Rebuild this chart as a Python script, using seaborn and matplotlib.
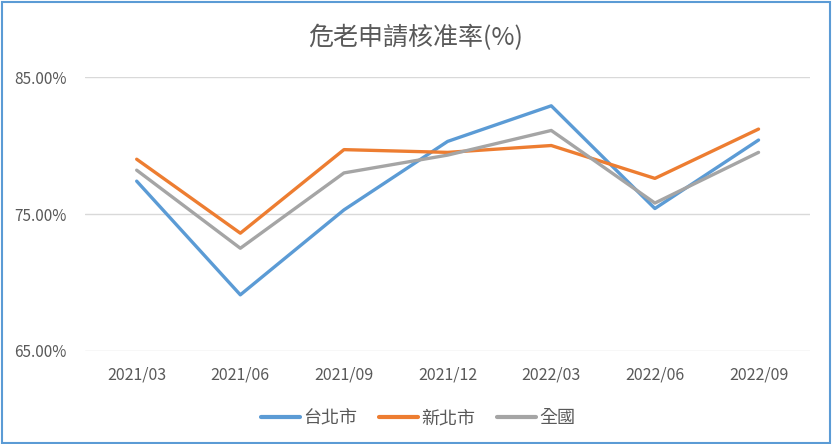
import numpy as np
import pandas as pd
import seaborn as sns
import matplotlib.pyplot as plt
from matplotlib.patches import Rectangle
from matplotlib.ticker import FuncFormatter

# data (percent)
quarters = ["2021/03", "2021/06", "2021/09", "2021/12", "2022/03", "2022/06", "2022/09"]
taipei = [77.4, 69.1, 75.3, 80.3, 82.9, 75.4, 80.4]
new_taipei = [79.0, 73.6, 79.7, 79.5, 80.0, 77.6, 81.2]
nationwide = [78.2, 72.5, 78.0, 79.3, 81.1, 75.8, 79.5]
series_names = ["台北市", "新北市", "全國"]
colors = ["#5B9BD5", "#ED7D31", "#A5A5A5"]

rows = []
for name, vals in zip(series_names, [taipei, new_taipei, nationwide]):
    for i, v in enumerate(vals):
        rows.append((name, i, v))
df = pd.DataFrame(rows, columns=["series", "pos", "rate"])

sns.set_theme(style="white")
plt.rcParams['font.family'] = ['Noto Sans CJK TC', 'DejaVu Sans']

fig = plt.figure(figsize=(8.32, 4.44), dpi=100)
ax = fig.add_axes([0.102, 0.2095, 0.872, 0.617])

sns.lineplot(data=df, x="pos", y="rate", hue="series", hue_order=series_names,
             palette=colors, linewidth=2.4, ax=ax, legend=True)

ax.set_xlim(-0.5, 6.5)
ax.set_ylim(65, 85)
ax.set_yticks([65, 75, 85])
ax.yaxis.set_major_formatter(FuncFormatter(lambda v, p: f"{v:.2f}%"))
ax.set_xticks(range(len(quarters)))
ax.set_xticklabels(quarters)
ax.grid(axis='y', color='#D9D9D9', linewidth=1)
ax.grid(axis='x', visible=False)
for s in ax.spines.values():
    s.set_visible(False)
ax.tick_params(axis='both', length=0, colors='#595959')
ax.tick_params(axis='x', pad=11, labelsize=11.5)
ax.tick_params(axis='y', pad=13, labelsize=11)
ax.set_xlabel("")
ax.set_ylabel("")

fig.text(0.5, 0.915, "危老申請核准率(%)", ha='center', va='center',
         fontsize=18, color='#595959')

handles, labels = ax.get_legend_handles_labels()
for h in handles:
    h.set_linewidth(3)
ax.legend(handles, labels, loc='center', bbox_to_anchor=(0.459, -0.245),
          bbox_transform=ax.transAxes, ncol=3, frameon=False,
          fontsize=13, labelcolor='#595959', handlelength=2.2,
          handletextpad=0.15, columnspacing=1.2)

# chart border
fig.patches.append(Rectangle((0.002, 0.003), 0.995, 0.993, transform=fig.transFigure,
                             fill=False, edgecolor='#5B9BD5', linewidth=1.5))

fig.savefig("out.png", dpi=100)
